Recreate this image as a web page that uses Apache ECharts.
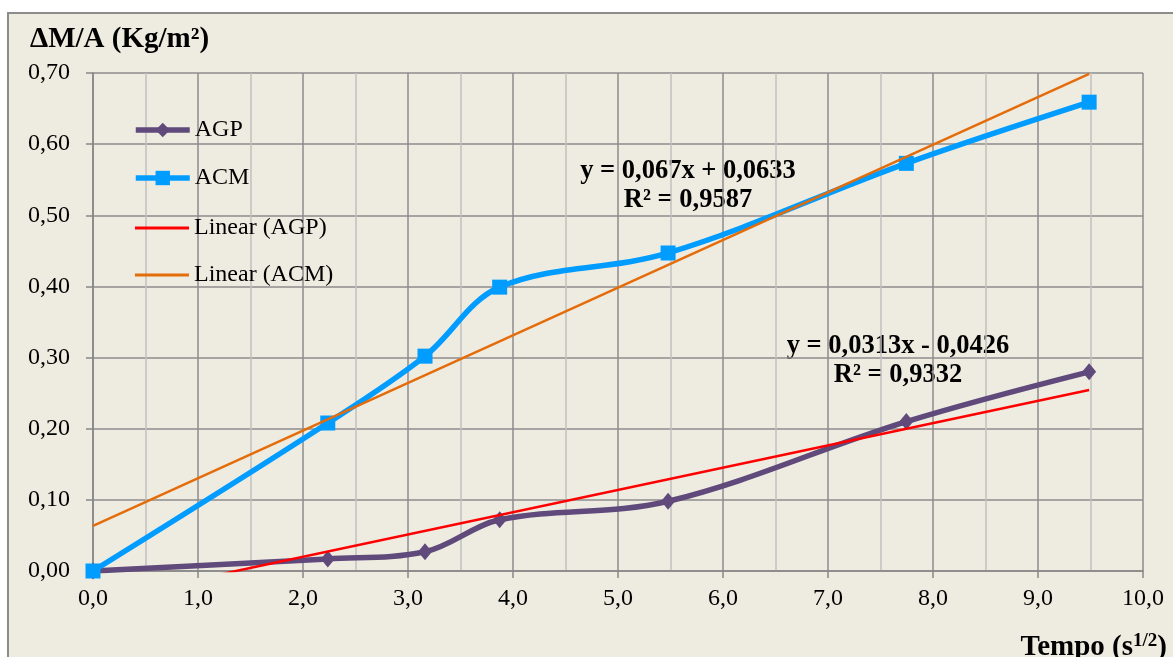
<!DOCTYPE html>
<html><head><meta charset="utf-8">
<script src="https://cdn.jsdelivr.net/npm/echarts@6/dist/echarts.min.js"></script>
<style>html,body{margin:0;padding:0;background:#fff}#c{width:1173px;height:657px}</style>
</head><body><div id="c"></div>
<script>
var xTime = [0, 2.236, 3.162, 3.873, 5.477, 7.746, 9.487];
var agp = [0, 0.017, 0.027, 0.072, 0.098, 0.210, 0.280];
var acm = [0, 0.208, 0.302, 0.399, 0.447, 0.573, 0.659];
var trendAgpX = [0, 9.487];
var trendAgpY = [-0.0426, 0.2543];
var trendAcmX = [0, 9.487];
var trendAcmY = [0.0633, 0.6989];
var yTicks = ['0,00','0,10','0,20','0,30','0,40','0,50','0,60','0,70'];
var xTicks = ['0,0','1,0','2,0','3,0','4,0','5,0','6,0','7,0','8,0','9,0','10,0'];

function pairs(xs, ys){ return xs.map(function(x,i){return [x, ys[i]];}); }
var F = '"Liberation Serif","Times New Roman",serif';
var chart = echarts.init(document.getElementById('c'));
chart.setOption({
  animation: false,
  backgroundColor: '#ffffff',
  graphic: [
    {type:'rect', z:-10, shape:{x:8,y:13,width:1200,height:700}, style:{fill:'#EEECE1', stroke:'#8c8c8c', lineWidth:2}},
    {type:'text', left:30, top:25, style:{text:'ΔM/A (Kg/m²)', font:'bold 29px '+F, fill:'#000'}},
    {type:'text', right:6, top:632, style:{rich:{a:{font:'bold 29px '+F, fill:'#000'}, s:{font:'bold 19px '+F, fill:'#000', verticalAlign:'top', padding:[0,0,12,0]}}, text:'{a|Tempo (s}{s|1/2}{a|)}'}},
    {type:'text', x:688, y:171, style:{text:'y = 0,067x + 0,0633', font:'bold 26.5px '+F, fill:'#000', align:'center', verticalAlign:'middle'}},
    {type:'text', x:688, y:200, style:{text:'R² = 0,9587', font:'bold 26.5px '+F, fill:'#000', align:'center', verticalAlign:'middle'}},
    {type:'text', x:898, y:346, style:{text:'y = 0,0313x - 0,0426', font:'bold 26.5px '+F, fill:'#000', align:'center', verticalAlign:'middle'}},
    {type:'text', x:898, y:375, style:{text:'R² = 0,9332', font:'bold 26.5px '+F, fill:'#000', align:'center', verticalAlign:'middle'}}
  ],
  legend: [{
    orient:'vertical', left:128, top:113, itemGap:24, itemWidth:54, itemHeight:18,
    textStyle:{fontFamily:F, fontSize:24, color:'#000'},
    lineStyle:{width:5.5},
    data:['AGP','ACM']
  },{
    orient:'vertical', left:130, top:211, itemGap:23, itemWidth:54, itemHeight:3,
    icon:'rect',
    textStyle:{fontFamily:F, fontSize:24, color:'#000'},
    data:['Linear (AGP)','Linear (ACM)']
  }],
  grid: {left:93, right:30, top:73, bottom:86, containLabel:false},
  xAxis: {
    type:'value', min:0, max:10, interval:1,
    axisLine:{show:true, lineStyle:{color:'#868686', width:1.5}},
    axisTick:{show:true, length:7, lineStyle:{color:'#868686', width:1.5}},
    axisLabel:{formatter:function(v){return xTicks[Math.round(v)];}, fontFamily:F, fontSize:24, color:'#000', margin:16},
    splitLine:{show:true, lineStyle:{color:'#8c8c8c', width:1.5}},
    minorTick:{show:false, splitNumber:2},
    minorSplitLine:{show:true, lineStyle:{color:'#c0c0c0', width:1.5}}
  },
  yAxis: {
    type:'value', min:0, max:0.7, interval:0.1,
    axisLine:{show:true, lineStyle:{color:'#868686', width:1.5}},
    axisTick:{show:true, length:7, lineStyle:{color:'#868686', width:1.5}},
    axisLabel:{formatter:function(v){return yTicks[Math.round(v*10)];}, fontFamily:F, fontSize:24, color:'#000', margin:23},
    splitLine:{show:true, lineStyle:{color:'#8c8c8c', width:1.5}}
  },
  series: [
    {name:'Linear (AGP)', type:'line', data:pairs(trendAgpX, trendAgpY), symbol:'none', clip:true, z:3,
     lineStyle:{color:'#FF0000', width:2.5}, itemStyle:{color:'#FF0000'}},
    {name:'Linear (ACM)', type:'line', data:pairs(trendAcmX, trendAcmY), symbol:'none', clip:true, z:3,
     lineStyle:{color:'#E46C0A', width:2.5}, itemStyle:{color:'#E46C0A'}},
    {name:'AGP', type:'line', data:pairs(xTime, agp), smooth:0.35, symbol:'diamond', symbolSize:[14,17], z:2,
     lineStyle:{color:'#604A7B', width:5.5}, itemStyle:{color:'#604A7B'}},
    {name:'ACM', type:'line', data:pairs(xTime, acm), smooth:0.35, symbol:'rect', symbolSize:15, z:2,
     lineStyle:{color:'#009CFF', width:5.5}, itemStyle:{color:'#009CFF'}}
  ]
});
</script></body></html>
